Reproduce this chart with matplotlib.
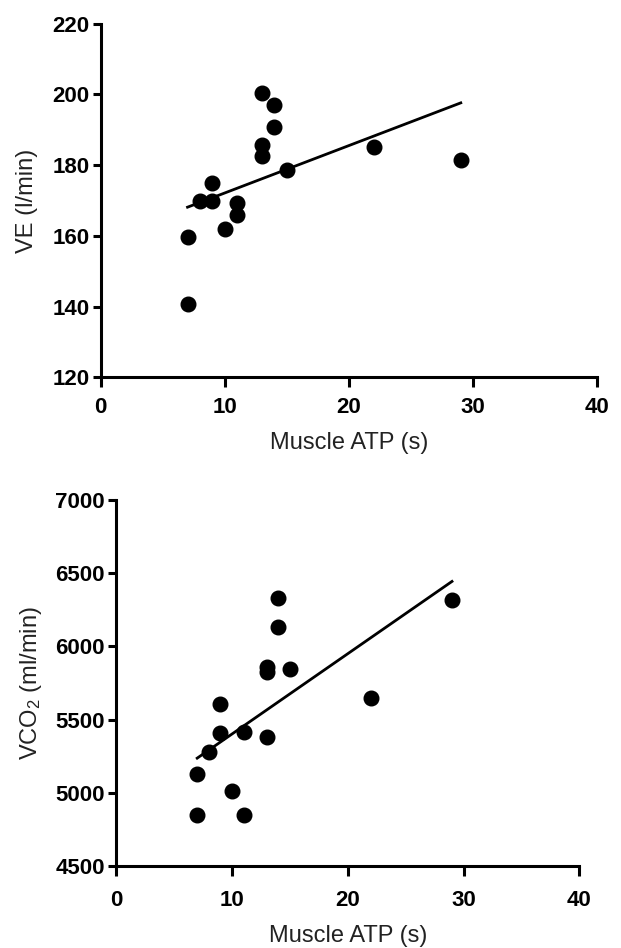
import matplotlib
matplotlib.use("Agg")
import matplotlib.pyplot as plt
import numpy as np

plt.rcParams['font.family'] = ['Liberation Sans', 'DejaVu Sans']
plt.rcParams['mathtext.default'] = 'regular'

# muscle ATP (s), same subjects in both panels
atp = [7, 7, 8, 9, 9, 10, 11, 11, 13, 13, 13, 14, 14, 15, 22, 29]
# minute ventilation (l/min)
ve = [140.8, 159.7, 169.9, 170, 175, 162, 169.2, 165.8,
      200.5, 185.8, 182.7, 197.1, 190.7, 178.6, 185.2, 181.5]

atp2 = [7, 7, 8, 9, 9, 10, 11, 11, 13, 13, 13, 14, 14, 15, 22, 29]
# CO2 output (ml/min)
vco2 = [4852, 5132, 5282, 5609, 5409, 5016, 5414, 4850,
        5382, 5860, 5823, 6330, 6130, 5848, 5650, 6314]

x_ticks = [0, 10, 20, 30, 40]
ve_ticks = [120, 140, 160, 180, 200, 220]
vco2_ticks = [4500, 5000, 5500, 6000, 6500, 7000]


def panel(ax, x, y, yticks, ylabel, xpad, ylabpad):
    ax.plot(x, y, 'o', color='black', markersize=10.5, zorder=3)
    k, b = np.polyfit(x, y, 1)
    xs = np.array([min(x), max(x)])
    ax.plot(xs, k * xs + b, color='black', linewidth=2)

    ax.set_xlim(0, 40)
    ax.set_ylim(yticks[0], yticks[-1])
    ax.set_xticks(x_ticks)
    ax.set_yticks(yticks)
    for s in ['top', 'right']:
        ax.spines[s].set_visible(False)
    for s in ['left', 'bottom']:
        ax.spines[s].set_linewidth(2.2)
    ax.tick_params(axis='both', width=2.2, labelsize=16)
    ax.tick_params(axis='y', length=6, pad=2)
    ax.tick_params(axis='x', length=7, pad=xpad)
    for lab in ax.get_xticklabels() + ax.get_yticklabels():
        lab.set_fontweight('bold')
    ax.set_xlabel('Muscle ATP (s)', fontsize=17, color='#222222', labelpad=10)
    ax.set_ylabel(ylabel, fontsize=17, color='#222222', labelpad=ylabpad)


fig = plt.figure(figsize=(6.21, 9.48), dpi=100)
ax1 = fig.add_axes([0.162, 0.602, 0.80, 0.373])
ax2 = fig.add_axes([0.187, 0.086, 0.746, 0.387])

panel(ax1, atp, ve, ve_ticks, 'VE (l/min)', 7, 10)
panel(ax2, atp2, vco2, vco2_ticks, 'VCO$_2$ (ml/min)', 10, 8)

fig.savefig('out.png', dpi=100)
